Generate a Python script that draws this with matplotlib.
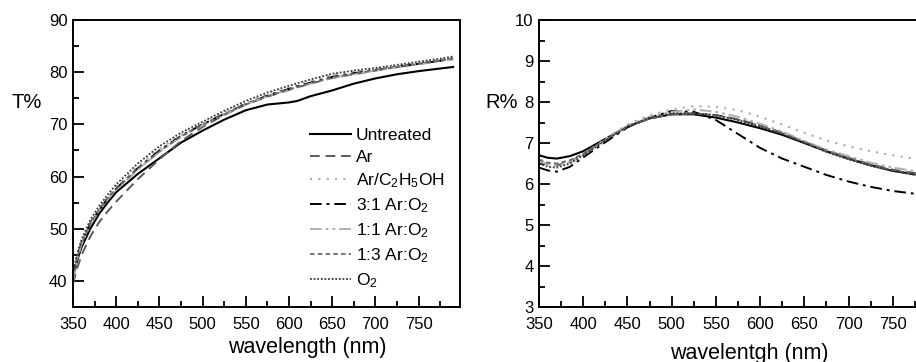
import numpy as np
import matplotlib
matplotlib.use("Agg")
import matplotlib.pyplot as plt
from matplotlib.ticker import MultipleLocator

plt.rcParams["font.family"] = ["Liberation Sans", "DejaVu Sans"]
plt.rcParams["mathtext.default"] = "regular"

# transmittance (left panel)
wl_t = [350, 355, 360, 370, 380, 390, 400, 425, 450, 475, 500, 525, 550, 575, 600, 610, 625, 650, 675, 700, 725, 750, 775, 790]
t_untreated = [40.5, 44.0, 46.5, 50.0, 52.8, 55.0, 57.0, 60.5, 63.5, 66.5, 68.8, 70.9, 72.7, 73.8, 74.2, 74.5, 75.4, 76.5, 77.8, 78.8, 79.6, 80.2, 80.7, 81.0]
t_ar = [39.5, 42.5, 45.0, 48.5, 51.2, 53.3, 55.2, 59.5, 63.3, 66.8, 69.5, 71.8, 73.8, 75.3, 76.6, 77.1, 77.8, 78.9, 79.6, 80.3, 81.0, 81.6, 82.2, 82.5]
t_arc2h5oh = [41.0, 45.0, 47.5, 51.2, 53.8, 56.0, 58.0, 62.0, 65.3, 68.0, 70.2, 72.3, 74.2, 75.8, 77.0, 77.5, 78.3, 79.5, 80.1, 80.6, 81.2, 81.8, 82.4, 82.8]
t_31 = [41.0, 44.8, 47.3, 51.0, 53.5, 55.8, 57.7, 61.6, 65.0, 67.8, 70.0, 72.0, 73.9, 75.5, 76.8, 77.3, 78.0, 79.1, 79.8, 80.4, 81.0, 81.6, 82.2, 82.6]
t_11 = [40.0, 44.3, 47.0, 50.8, 53.4, 55.6, 57.5, 61.3, 64.7, 67.6, 69.8, 71.9, 73.8, 75.4, 76.6, 77.1, 77.8, 78.9, 79.6, 80.3, 80.9, 81.5, 82.1, 82.5]
t_13 = [40.5, 44.5, 47.2, 51.0, 53.6, 55.8, 57.6, 61.5, 64.8, 67.7, 69.9, 71.9, 73.8, 75.4, 76.7, 77.2, 77.9, 79.0, 79.7, 80.4, 81.0, 81.6, 82.2, 82.6]
t_o2 = [41.5, 45.3, 48.0, 51.7, 54.3, 56.5, 58.5, 62.5, 65.8, 68.4, 70.5, 72.6, 74.5, 76.1, 77.4, 77.9, 78.6, 79.7, 80.3, 80.8, 81.4, 82.0, 82.6, 83.0]

# reflectance (right panel)
wl_r = [350, 360, 370, 385, 400, 425, 450, 475, 500, 525, 550, 575, 600, 625, 650, 675, 700, 725, 750, 780]
r_untreated = [6.70, 6.64, 6.62, 6.68, 6.80, 7.10, 7.40, 7.60, 7.70, 7.70, 7.62, 7.50, 7.36, 7.20, 7.00, 6.80, 6.62, 6.46, 6.32, 6.22]
r_ar = [6.55, 6.48, 6.45, 6.55, 6.72, 7.08, 7.40, 7.60, 7.70, 7.72, 7.68, 7.58, 7.43, 7.25, 7.03, 6.82, 6.64, 6.48, 6.35, 6.25]
r_arc2h5oh = [6.58, 6.50, 6.48, 6.56, 6.72, 7.10, 7.45, 7.68, 7.82, 7.90, 7.88, 7.80, 7.64, 7.45, 7.25, 7.06, 6.92, 6.80, 6.70, 6.60]
r_31 = [6.40, 6.33, 6.30, 6.42, 6.65, 7.02, 7.38, 7.62, 7.78, 7.76, 7.56, 7.22, 6.88, 6.62, 6.42, 6.22, 6.06, 5.93, 5.83, 5.75]
r_11 = [6.55, 6.48, 6.45, 6.53, 6.70, 7.08, 7.42, 7.64, 7.76, 7.82, 7.76, 7.64, 7.47, 7.28, 7.05, 6.84, 6.68, 6.52, 6.40, 6.30]
r_13 = [6.60, 6.52, 6.50, 6.58, 6.74, 7.08, 7.40, 7.60, 7.70, 7.72, 7.68, 7.57, 7.42, 7.24, 7.02, 6.80, 6.62, 6.46, 6.34, 6.22]
r_o2 = [6.50, 6.42, 6.40, 6.50, 6.70, 7.06, 7.40, 7.62, 7.72, 7.73, 7.68, 7.56, 7.40, 7.22, 7.00, 6.78, 6.60, 6.44, 6.32, 6.20]

labels = ["Untreated", "Ar", "Ar/C$_2$H$_5$OH", "3:1 Ar:O$_2$", "1:1 Ar:O$_2$", "1:3 Ar:O$_2$", "O$_2$"]
styles = [
    dict(color="black", ls="-", lw=1.5),
    dict(color="#5a5a5a", ls=(0, (5, 3)), lw=1.4),
    dict(color="#ababab", ls=(0, (1, 3)), lw=1.5),
    dict(color="black", ls=(0, (6, 2.5, 1.5, 2.5)), lw=1.4),
    dict(color="#b0b0b0", ls=(0, (6, 2, 1.5, 2, 1.5, 2)), lw=1.4),
    dict(color="#6a6a6a", ls=(0, (2.5, 1.8)), lw=1.3),
    dict(color="#3a3a3a", ls=(0, (1, 1)), lw=1.3),
]

fig = plt.figure(figsize=(9.16, 3.62), dpi=100)
ax1 = fig.add_axes([73 / 916, 1 - 307 / 362, 387 / 916, 287 / 362])
ax2 = fig.add_axes([539 / 916, 1 - 307 / 362, 398 / 916, 287 / 362])

t_series = [t_untreated, t_ar, t_arc2h5oh, t_31, t_11, t_13, t_o2]
r_series = [r_untreated, r_ar, r_arc2h5oh, r_31, r_11, r_13, r_o2]
for y, lab, st in zip(t_series, labels, styles):
    ax1.plot(wl_t, y, label=lab, **st)
for y, st in zip(r_series, styles):
    ax2.plot(wl_r, y, **st)

ax1.set_xlim(350, 798)
ax1.set_ylim(35, 90)
ax1.yaxis.set_major_locator(MultipleLocator(10))
ax1.yaxis.set_minor_locator(MultipleLocator(5))
ax1.set_yticks([40, 50, 60, 70, 80, 90])

ax2.set_xlim(350, 800)
ax2.set_ylim(3, 10)
ax2.yaxis.set_major_locator(MultipleLocator(1))
ax2.yaxis.set_minor_locator(MultipleLocator(0.5))
ax2.spines["right"].set_visible(False)

for ax in (ax1, ax2):
    ax.set_xticks(range(350, 800, 50))
    ax.xaxis.set_minor_locator(MultipleLocator(25))
    ax.tick_params(which="major", direction="in", length=8, width=1.3, labelsize=12, pad=4)
    ax.tick_params(which="minor", direction="in", length=4, width=1.3)
    ax.tick_params(axis="x", which="major", pad=7)
    for s in ax.spines.values():
        s.set_linewidth(1.4)

fig.text(307 / 916, 1 - 347 / 362, "wavelength (nm)", ha="center", va="center", fontsize=15.5)
fig.text(749 / 916, 1 - 353 / 362, "wavelentgh (nm)", ha="center", va="center", fontsize=15.5)
fig.text(27 / 916, 1 - 103 / 362, "T%", ha="center", va="center", fontsize=14.5)
fig.text(502 / 916, 1 - 102 / 362, "R%", ha="center", va="center", fontsize=14.5)

ax1.legend(loc="upper left", bbox_to_anchor=(0.58, 0.665), frameon=False, fontsize=12.5,
           handlelength=2.4, handletextpad=0.25, labelspacing=0.36, borderpad=0.2)

fig.savefig("out.png", dpi=100)
